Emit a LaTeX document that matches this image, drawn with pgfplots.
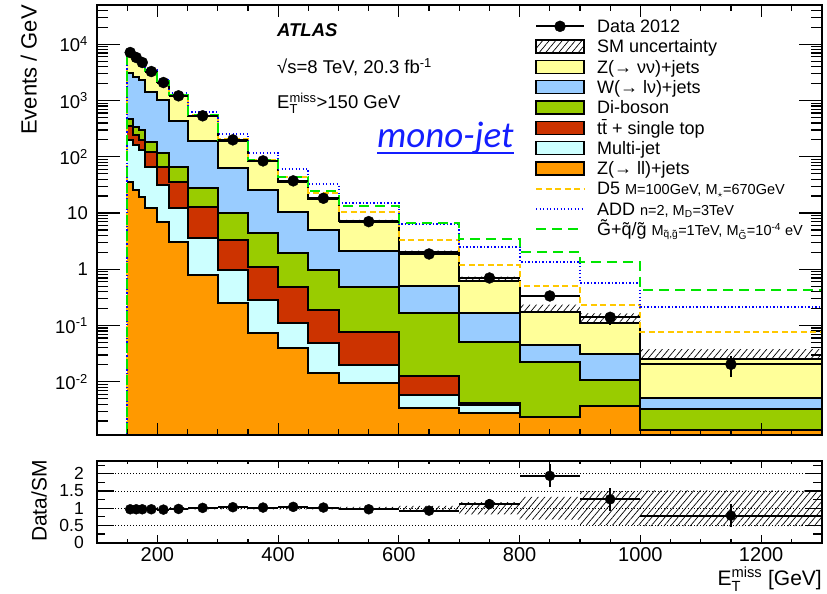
\documentclass[border=0pt]{standalone}
\usepackage{amsmath}
\usepackage{fontspec}
\setmainfont{Liberation Sans}
\newfontfamily\calib{Carlito}
\usepackage{pgfplots}
\pgfplotsset{compat=1.18}
\usepackage{pgfplotstable}
\usetikzlibrary{patterns,patterns.meta}
\usepgfplotslibrary{fillbetween}

\definecolor{czvv}{RGB}{255,255,153}
\definecolor{cw}{RGB}{153,204,255}
\definecolor{cvv}{RGB}{153,204,0}
\definecolor{ctt}{RGB}{204,51,0}
\definecolor{cmj}{RGB}{204,255,255}
\definecolor{czll}{RGB}{255,153,0}
\definecolor{cd5}{RGB}{255,200,0}
\definecolor{cadd}{RGB}{0,0,255}
\definecolor{cgm}{RGB}{0,230,0}
\definecolor{cmono}{RGB}{20,30,255}

\newcommand\sm{\fontsize{14.5}{14.5}\selectfont}

% background components, Events/GeV, per bin (low edge); last row closes the last bin
\pgfplotstableread{
lo    zll      mj      tt       vv       w        zvv     unc
150   36       164     150      117      2683     4221    0.03
160   25.8     137.2   82       100      2330     3325    0.03
170   19.5     113.5   67       101      2034     2555    0.03
180   12.2     54.8    57       62       1260     1935    0.03
200   7.0      24.6    35.4     49       912      1149    0.03
220   3.1      9.1     24       30.8     373      798     0.03
250   0.79     2.77    9.44     14.6     166.4    336     0.03
300   0.248    0.722   2.33     6.6      52.8     131.3   0.03
350   0.0726   0.2124  0.825    3.26     21.63    56.8    0.03
400   0.0393   0.0697  0.37     1.451    8.67     25.3    0.03
450   0.0141   0.0339  0.141    0.781    4.03     12.9    0.035
500   0.0094   0.0104  0.0559   0.4143   1.63     5.13    0.04
600   0.0034   0.0024  0.0067   0.1525   0.34     1.505   0.07
700   0.00274  0.00111 0.00033  0.0473   0.1175   0.456   0.18
800   0.00238  0       0        0.0197   0.0229   0.131   0.33
900   0.0037   0       0        0.007    0.02     0.0783  0.5
1000  0.00138  0       0        0.00185  0.00184  0.0199  0.52
1300  0.00138  0       0        0.00185  0.00184  0.0199  0.52
}\bkg
\pgfplotstablecreatecol[create col/expr={\thisrow{zll}}]{c1}\bkg
\pgfplotstablecreatecol[create col/expr={\thisrow{c1}+\thisrow{mj}}]{c2}\bkg
\pgfplotstablecreatecol[create col/expr={\thisrow{c2}+\thisrow{tt}}]{c3}\bkg
\pgfplotstablecreatecol[create col/expr={\thisrow{c3}+\thisrow{vv}}]{c4}\bkg
\pgfplotstablecreatecol[create col/expr={\thisrow{c4}+\thisrow{w}}]{c5}\bkg
\pgfplotstablecreatecol[create col/expr={\thisrow{c5}+\thisrow{zvv}}]{c6}\bkg
\pgfplotstablecreatecol[create col/expr={\thisrow{c6}*(1+\thisrow{unc})}]{up}\bkg
\pgfplotstablecreatecol[create col/expr={\thisrow{c6}*(1-\thisrow{unc})}]{dn}\bkg
\pgfplotstablecreatecol[create col/expr={1+\thisrow{unc}}]{rup}\bkg
\pgfplotstablecreatecol[create col/expr={1-\thisrow{unc}}]{rdn}\bkg

% SM + signal, Events/GeV (first row: empty bins drawn on the frame)
\pgfplotstableread{
lo    d5       add      gm
100   0.00113  0.00113  0.00113
150   7450     7520     7440
160   6070     6120     6060
170   4950     5040     4940
180   3430     3520     3420
200   2220     2290     2210
220   1270     1340     1265
250   560      621      548
300   203      255      200
350   88       119      87
400   44       61       43
450   23       33       24.6
500   10.3     14.9     13.4
600   3.3      6.3      6.75
700   1.19     2.52     3.42
800   0.505    1.36     2.06
900   0.232    0.564    1.33
1000  0.0766   0.211    0.429
1300  0.0766   0.211    0.429
}\sig

% data 2012
\pgfplotstableread{
x     y       ex    ey      r      er
155   7150    5     26.7    0.97   0.01
165   5820    5     24.1    0.97   0.01
175   4745    5     21.8    0.97   0.01
190   3280    10    12.8    0.97   0.01
210   2090    10    10.2    0.96   0.01
235   1213    15    6.4     0.98   0.01
275   535     25    3.3     1.01   0.01
325   200     25    2       1.03   0.01
375   84.5    25    1.3     1.02   0.015
425   37.3    25    0.86    1.04   0.025
475   18.3    25    0.6     1.02   0.035
550   7.03    50    0.265   0.97   0.037
650   1.87    50    0.137   0.93   0.068
750   0.70    50    0.084   1.12   0.134
850   0.335   50    0.058   1.94   0.335
950   0.14    50    0.037   1.26   0.336
1150  0.0204  150   0.0082  0.785  0.34
}\dat

\pgfplotsset{
  hatchband/.style={pattern={Lines[angle=50,distance=5pt,line width=0.7pt]}, draw=none},
  stepline/.style={const plot, black, line width=2pt, forget plot},
  d5line/.style={const plot, cd5, line width=2pt, dash pattern=on 6pt off 3.5pt},
  addline/.style={const plot, cadd, line width=2pt, dash pattern=on 1.3pt off 2.2pt},
  gmline/.style={const plot, cgm, line width=2pt, dash pattern=on 10pt off 6pt},
}

\begin{document}
\begin{tikzpicture}

% ---------------- main panel ----------------
\begin{axis}[
  at={(97pt,159pt)}, anchor=south west, width=724.5pt, height=430pt, scale only axis,
  xmin=100, xmax=1300, ymode=log, ymin=1.13e-3, ymax=5e4, log origin y=infty,
  xtick=\empty,
  ytick={0.01,0.1,1,10,100,1000,10000},
  yticklabels={10\textsuperscript{-2},10\textsuperscript{-1},1,10,10\textsuperscript{2},10\textsuperscript{3},10\textsuperscript{4}},
  minor ytick={0.002,0.003,0.004,0.005,0.006,0.007,0.008,0.009,0.02,0.03,0.04,0.05,0.06,0.07,0.08,0.09,0.2,0.3,0.4,0.5,0.6,0.7,0.8,0.9,2,3,4,5,6,7,8,9,20,30,40,50,60,70,80,90,200,300,400,500,600,700,800,900,2000,3000,4000,5000,6000,7000,8000,9000,20000,30000,40000},
  tick align=inside, major tick length=23pt, minor tick length=11pt,
  tick style={black, line width=1.2pt},
  axis line style={line width=2pt},
  yticklabel style={font=\fontsize{18.5}{18.5}\selectfont, inner sep=0pt, anchor=east, xshift=-9pt},
  legend style={at={(0.6046,0.974)}, anchor=north west, draw=none, fill=none, inner sep=0pt, outer sep=0pt,
    font=\fontsize{18}{18}\selectfont, row sep=0pt,
    nodes={inner xsep=0pt, inner ysep=2.4pt, text height=14pt, text depth=1.5pt},
    /tikz/every odd column/.append style={column sep=12pt}},
  legend cell align=left,
]
\addlegendimage{legend image code/.code={\draw[line width=2pt] (0pt,0pt)--(48pt,0pt); \fill (24pt,0pt) circle (5.5pt);}}
\addlegendentry{Data 2012}
\addlegendimage{legend image code/.code={\draw[line width=1.5pt, pattern={Lines[angle=50,distance=5pt,line width=0.7pt]}] (0pt,-6.5pt) rectangle (48pt,6.5pt);}}
\addlegendentry{SM uncertainty}
\addlegendimage{legend image code/.code={\draw[line width=1.5pt, fill=czvv] (0pt,-6.5pt) rectangle (48pt,6.5pt);}}
\addlegendentry{Z(→ νν)+jets}
\addlegendimage{legend image code/.code={\draw[line width=1.5pt, fill=cw] (0pt,-6.5pt) rectangle (48pt,6.5pt);}}
\addlegendentry{W(→ lν)+jets}
\addlegendimage{legend image code/.code={\draw[line width=1.5pt, fill=cvv] (0pt,-6.5pt) rectangle (48pt,6.5pt);}}
\addlegendentry{Di-boson}
\addlegendimage{legend image code/.code={\draw[line width=1.5pt, fill=ctt] (0pt,-6.5pt) rectangle (48pt,6.5pt);}}
\addlegendentry{t\={t} + single top}
\addlegendimage{legend image code/.code={\draw[line width=1.5pt, fill=cmj] (0pt,-6.5pt) rectangle (48pt,6.5pt);}}
\addlegendentry{Multi-jet}
\addlegendimage{legend image code/.code={\draw[line width=1.5pt, fill=czll] (0pt,-6.5pt) rectangle (48pt,6.5pt);}}
\addlegendentry{Z(→ ll)+jets}
\addlegendimage{legend image code/.code={\draw[cd5, line width=2pt, dash pattern=on 6pt off 3.5pt] (0pt,0pt)--(48pt,0pt);}}
\addlegendentry{D5 {\sm M=100GeV, M$_\star$=670GeV}}
\addlegendimage{legend image code/.code={\draw[cadd, line width=2pt, dash pattern=on 1.3pt off 2.2pt] (0pt,0pt)--(48pt,0pt);}}
\addlegendentry{ADD {\sm n=2, M\textsubscript{D}=3TeV}}
\addlegendimage{legend image code/.code={\draw[cgm, line width=2pt, dash pattern=on 10pt off 6pt] (0pt,0pt)--(48pt,0pt);}}
\addlegendentry{\~{G}+\~{q}/\~{g} {\sm M\textsubscript{\~{q},\~{g}}=1TeV, M\textsubscript{\~{G}}=10\textsuperscript{-4} eV}}

% stacked background fills (cumulative tops)
\addplot[ybar interval, fill=czvv, draw=none, forget plot] table[x=lo,y=c6]{\bkg};
\addplot[ybar interval, fill=cw,   draw=none, forget plot] table[x=lo,y=c5]{\bkg};
\addplot[ybar interval, fill=cvv,  draw=none, forget plot] table[x=lo,y=c4]{\bkg};
\addplot[ybar interval, fill=ctt,  draw=none, forget plot] table[x=lo,y=c3]{\bkg};
\addplot[ybar interval, fill=cmj,  draw=none, forget plot] table[x=lo,y=c2]{\bkg};
\addplot[ybar interval, fill=czll, draw=none, forget plot] table[x=lo,y=c1]{\bkg};
% outlines
\addplot[stepline] table[x=lo,y=c1]{\bkg};
\addplot[stepline] table[x=lo,y=c2]{\bkg};
\addplot[stepline] table[x=lo,y=c3]{\bkg};
\addplot[stepline] table[x=lo,y=c4]{\bkg};
\addplot[stepline] table[x=lo,y=c5]{\bkg};
\addplot[stepline] table[x=lo,y=c6]{\bkg};
% SM uncertainty band
\addplot[const plot, draw=none, name path=bup, forget plot] table[x=lo,y=up]{\bkg};
\addplot[const plot, draw=none, name path=bdn, forget plot] table[x=lo,y=dn]{\bkg};
\addplot[hatchband, forget plot] fill between[of=bup and bdn];
% signals
\addplot[d5line, forget plot] table[x=lo,y=d5]{\sig};
\addplot[addline, forget plot] table[x=lo,y=add]{\sig};
\addplot[gmline, forget plot] table[x=lo,y=gm]{\sig};
% data
\addplot[only marks, mark=*, mark size=5.5pt, black, forget plot,
  error bars/.cd, x dir=both, x explicit, y dir=both, y explicit, error mark=none,
  error bar style={line width=2pt}]
  table[x=x, y=y, x error=ex, y error=ey]{\dat};
\end{axis}
% x ticks of the main panel
\begin{axis}[
  at={(97pt,159pt)}, anchor=south west, width=724.5pt, height=430pt, scale only axis,
  xmin=100, xmax=1300, ymin=0, ymax=1, ytick=\empty,
  xtick={200,400,600,800,1000,1200}, xticklabels={},
  minor xtick={150,250,300,350,450,500,550,650,700,750,850,900,950,1050,1100,1150,1250},
  tick align=inside, major tick length=12pt, minor tick length=6pt,
  tick style={black, line width=1.2pt}, axis line style={line width=2pt},
]
\addplot[draw=none, forget plot] table[x=x, y expr=0.5]{\dat};
\end{axis}

% ---------------- ratio panel ----------------
\begin{axis}[
  at={(97pt,51.3pt)}, anchor=south west, width=724.5pt, height=82pt, scale only axis,
  xmin=100, xmax=1300, ymin=0, ymax=2.38,
  xtick=\empty,
  ytick={0,0.5,1,1.5,2}, yticklabels={0,0.5,1,1.5,2},
  minor ytick={0.25,0.75,1.25,1.75,2.25},
  ymajorgrids, major grid style={black, line width=0.9pt, dash pattern=on 1pt off 2pt},
  tick align=inside, major tick length=16.7pt, minor tick length=8.3pt,
  tick style={black, line width=1.2pt}, axis line style={line width=2pt},
  yticklabel style={font=\fontsize{17.5}{17.5}\selectfont, inner sep=0pt, anchor=east, xshift=-13pt},
]
\addplot[const plot, draw=none, name path=rup, forget plot] table[x=lo,y=rup]{\bkg};
\addplot[const plot, draw=none, name path=rdn, forget plot] table[x=lo,y=rdn]{\bkg};
\addplot[hatchband, forget plot] fill between[of=rup and rdn];
\addplot[only marks, mark=*, mark size=5pt, black, forget plot,
  error bars/.cd, x dir=both, x explicit, y dir=both, y explicit, error mark=none,
  error bar style={line width=2pt}]
  table[x=x, y=r, x error=ex, y error=er]{\dat};
\end{axis}
\begin{axis}[
  at={(97pt,51.3pt)}, anchor=south west, width=724.5pt, height=82pt, scale only axis,
  xmin=100, xmax=1300, ymin=0, ymax=2.38, ytick=\empty,
  xtick={200,400,600,800,1000,1200}, xticklabels={200,400,600,800,1000,1200},
  minor xtick={150,250,300,350,450,500,550,650,700,750,850,900,950,1050,1100,1150,1250},
  tick align=inside, major tick length=7.7pt, minor tick length=3.7pt,
  tick style={black, line width=1.2pt}, axis line style={line width=2pt},
  xticklabel style={font=\fontsize{20}{20}\selectfont, inner sep=0pt, anchor=north, yshift=-5pt},
]
\addplot[draw=none, forget plot] table[x=x, y=r]{\dat};
\end{axis}

% ---------------- texts ----------------
\node[rotate=90, anchor=base east, inner sep=0pt, font=\fontsize{22}{22}\selectfont] at (36.5pt,589pt) {Events / GeV};
\node[rotate=90, anchor=base east, inner sep=0pt, font=\fontsize{21}{21}\selectfont] at (46.5pt,134pt) {Data/SM};
\node[anchor=base east, inner sep=0pt, font=\fontsize{21}{21}\selectfont] at (822pt,8.5pt) {E$_{\text{T}}^{\text{miss}}$ [GeV]};
\node[anchor=base west, inner sep=0pt, font=\fontsize{18.5}{18.5}\selectfont\bfseries\itshape] at (277pt,557.3pt) {ATLAS};
\node[anchor=base west, inner sep=0pt, font=\fontsize{18.5}{18.5}\selectfont] at (277pt,520.7pt) {√s=8 TeV, 20.3 fb\textsuperscript{-1}};
\node[anchor=base west, inner sep=0pt, font=\fontsize{18.5}{18.5}\selectfont] at (277pt,485.7pt) {E$_{\text{T}}^{\text{miss}}$>150 GeV};
\node[anchor=base west, inner sep=0pt, text=cmono, font=\calib\itshape\fontsize{37}{37}\selectfont] at (377pt,446pt)
  {\setbox0=\hbox{mono-jet}\copy0\llap{\rule[-6.3pt]{\wd0}{2.5pt}}};

\pgfresetboundingbox
\path (0pt,0pt) rectangle (827pt,594pt);
\end{tikzpicture}
\end{document}
